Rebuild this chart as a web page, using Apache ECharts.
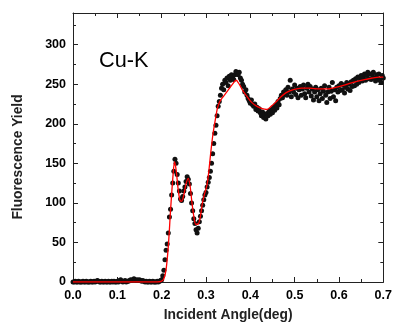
<!DOCTYPE html>
<html>
<head>
<meta charset="utf-8">
<script src="https://cdn.jsdelivr.net/npm/echarts@6/dist/echarts.min.js"></script>
<style>
html,body{margin:0;padding:0;background:#fff;}
#chart{width:395px;height:327px;}
</style>
</head>
<body>
<div id="chart"></div>
<script>
// Measurement grid: incident angle start and step (deg)
const angleStart = 0.0;
const angleStep = 0.0025;

// Measured fluorescence yield (dots), one value per grid step from 0.0 to 0.7 deg
const yieldLow = [
  0,0,1,0,0,1,0,0,0,1,0,0,1,0,0,0,1,0,0,1,0,
  1,2,1,0,0,1,0,0,1,0,0,1,0,0,1,0,1,0,0,
  1,0,2,3,1,0,1,2,0,1, 1,2,3,2,3,4,3,2,3,2, 3,2,1,2,1,0,1,0,0,1, 0,0,1,0,0,0,1,0,1,2
];
const yieldHigh = [
  3,8,15,28,40,48,62,82,92,110,
  125,140,155,150,136,125,115,105,103,108,
  115,120,127,133,130,124,112,100,90,80,
  74,66,62,68,76,83,90,97,104,110,
  113,120,126,132,140,150,162,175,188,198,
  210,222,228,236,245,250,243,255,252,258,
  248,260,255,262,258,256,262,266,264,262,
  265,258,255,250,247,240,243,236,232,229,
  226,230,224,222,225,218,221,216,219,214,
  210,215,208,212,206,213,210,216,212,218,
  214,221,217,224,220,228,224,232,236,233,
  240,237,243,236,246,240,255,234,244,240,
  249,237,245,233,243,247,236,244,249,238,
  233,245,250,240,247,235,244,230,240,246,
  234,243,229,238,245,232,241,248,236,227,
  240,246,232,241,252,234,243,229,246,240,
  248,242,251,243,249,239,246,252,244,250,
  242,253,247,255,248,257,250,259,252,258,
  261,254,259,263,255,261,265,257,263,256,
  262,265,258,254,262,257,263,255,252,261,
  258
];
const yieldValues = yieldLow.concat(yieldHigh);

// Fitted curve (red line)
const fitAngle = [0,0.1,0.19,0.2,0.205,0.21,0.215,0.22,0.225,0.229,0.233,0.237,0.241,0.245,0.25,0.255,0.26,0.264,0.268,0.272,0.277,0.282,0.287,0.292,0.297,0.302,0.306,0.311,0.316,0.321,0.326,0.331,0.337,0.344,0.352,0.36,0.368,0.375,0.383,0.392,0.403,0.415,0.427,0.437,0.447,0.457,0.467,0.48,0.497,0.515,0.534,0.555,0.575,0.6,0.63,0.66,0.69,0.7];
const fitYield = [0,0,0,1,4,16,45,90,130,152,140,118,104,102,110,124,131,122,102,85,73,73,82,100,112,122,138,165,188,205,220,228,233,238,244,250,255,250,242,235,227,222,219,218,222,227,233,239,243,245,245,244,244,247,252,256,259,259];

// Axis ticks
const xTicks = [0.0,0.1,0.2,0.3,0.4,0.5,0.6,0.7];
const yTicks = [0,50,100,150,200,250,300];

const dots = yieldValues.map((v,i)=>[angleStart + i*angleStep, v]);
const fit = fitAngle.map((a,i)=>[a, fitYield[i]]);

const axisColor = '#222';
const labelFont = {fontFamily:'"Liberation Sans", Arial, sans-serif', fontWeight:'bold', fontSize:12.5, color:'#000'};

const chart = echarts.init(document.getElementById('chart'), null, {renderer:'canvas'});
chart.setOption({
  animation:false,
  backgroundColor:'#fff',
  grid:{left:73, right:9, top:13, bottom:40, containLabel:false},
  xAxis:[{
    type:'value', position:'bottom',
    min:xTicks[0], max:xTicks[xTicks.length-1], interval:0.1,
    axisLine:{show:true, onZero:false, lineStyle:{color:axisColor, width:1}},
    axisTick:{show:true, inside:true, length:5, lineStyle:{color:axisColor}},
    minorTick:{show:true, splitNumber:2, length:3, lineStyle:{color:axisColor}},
    splitLine:{show:false},
    axisLabel:Object.assign({margin:7, formatter:v=>v.toFixed(1)}, labelFont),
    name:'Incident Angle(deg)', nameLocation:'middle', nameGap:26,
    nameTextStyle:{fontFamily:'"Liberation Sans", Arial, sans-serif', fontWeight:'bold', fontSize:13.8, color:'#222'}
  },{
    type:'value', position:'top',
    min:xTicks[0], max:xTicks[xTicks.length-1], interval:0.1,
    axisLine:{show:true, onZero:false, lineStyle:{color:axisColor, width:1}},
    axisTick:{show:true, inside:true, length:5, lineStyle:{color:axisColor}},
    minorTick:{show:true, splitNumber:2, length:3, lineStyle:{color:axisColor}},
    splitLine:{show:false}, axisLabel:{show:false}
  }],
  yAxis:[{
    type:'value', position:'left',
    min:yTicks[0], max:340, interval:50,
    axisLine:{show:true, onZero:false, lineStyle:{color:axisColor, width:1}},
    axisTick:{show:true, inside:true, length:5, lineStyle:{color:axisColor}},
    minorTick:{show:true, splitNumber:2, length:3, lineStyle:{color:axisColor}},
    splitLine:{show:false},
    axisLabel:Object.assign({margin:7, formatter:v=> v<=yTicks[yTicks.length-1] ? String(v) : ''}, labelFont)
  },{
    type:'value', position:'right',
    min:yTicks[0], max:340, interval:50,
    axisLine:{show:true, onZero:false, lineStyle:{color:axisColor, width:1}},
    axisTick:{show:true, inside:true, length:5, lineStyle:{color:axisColor}},
    minorTick:{show:true, splitNumber:2, length:3, lineStyle:{color:axisColor}},
    splitLine:{show:false}, axisLabel:{show:false}
  }],
  graphic:[{
    type:'text', x:18, y:157, rotation:Math.PI/2,
    style:{text:'Fluorescence Yield', x:0, y:0, align:'center', verticalAlign:'middle',
      font:'bold 13.8px "Liberation Sans", Arial, sans-serif', fill:'#222'}
  },{
    type:'text', left:99, top:50,
    style:{text:'Cu-K', font:'21.7px "Liberation Sans", Arial, sans-serif', fill:'#000'}
  }],
  series:[{
    type:'scatter', xAxisIndex:0, yAxisIndex:0,
    data:dots, symbol:'circle', symbolSize:5,
    itemStyle:{color:'#111', opacity:1}, z:2
  },{
    type:'line', xAxisIndex:0, yAxisIndex:0,
    data:fit, showSymbol:false, smooth:0.3,
    lineStyle:{color:'#ff0000', width:1.3}, z:3
  }]
});
</script>
</body>
</html>
